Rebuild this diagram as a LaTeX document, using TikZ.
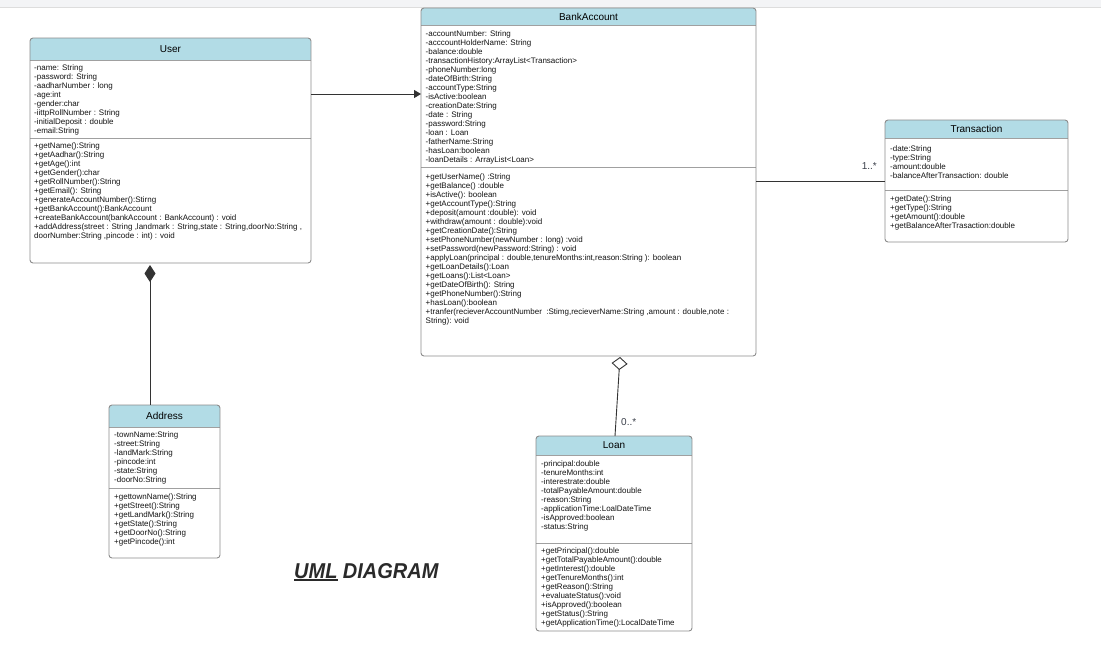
\documentclass[tikz,border=0pt]{standalone}
\usepackage{fontspec}
\setmainfont{Liberation Sans}
\newfontfamily\titlefont[FakeStretch=0.93]{Liberation Sans}
\usetikzlibrary{arrows.meta}
\definecolor{hdr}{HTML}{B2DCE6}
\definecolor{bordc}{HTML}{8C8C8C}
\definecolor{sepc}{HTML}{A0A0A0}
\definecolor{txt}{HTML}{141414}
\definecolor{linec}{HTML}{333333}
\definecolor{multc}{HTML}{3A3F4A}
\definecolor{bandc}{HTML}{F3F4F6}
\definecolor{bandl}{HTML}{DDDDDD}
\definecolor{titlec}{HTML}{2A2A2A}
\tikzset{
  boxshape/.style={anchor=north west, inner sep=0, outer sep=0, draw=none},
  boxborder/.style={draw=bordc, line width=0.9pt},
  sepline/.style={draw=sepc, line width=0.9pt},
  classtitle/.style={inner sep=0, font=\fontsize{10}{12}\selectfont, text=black},
  members/.style={anchor=north west, inner sep=0, align=left, font=\fontsize{8}{9}\selectfont, text=txt},
  conn/.style={draw=linec, line width=0.9pt},
  assoc/.style={conn, -{Triangle[length=7pt,width=8pt]}},
  mult/.style={inner sep=0, font=\fontsize{10}{12}\selectfont, text=multc},
}
% name, x, y, w, h, header bottom, separator, title
\newcommand\umlclass[8]{%
  \node[boxshape, minimum width=#4pt, minimum height=#5pt] (#1) at (#2,#3) {};
  \begin{scope}
    \clip[rounded corners=3pt] (#1.north west) rectangle (#1.south east);
    \fill[hdr] (#1.north west) rectangle (#2+#4,#6);
  \end{scope}
  \draw[sepline] (#2,#6) -- (#2+#4,#6);
  \draw[sepline] (#2,#7) -- (#2+#4,#7);
  \draw[boxborder, rounded corners=3pt] (#1.north west) rectangle (#1.south east);
  \node[classtitle] (#1-title) at ({#2+#4/2},{(#3+#6)/2}) {#8};
}
\begin{document}
\begin{tikzpicture}[x=1pt,y=-1pt]
\useasboundingbox (0,0) rectangle (1101,667);
\fill[white] (0,0) rectangle (1101,667);
\fill[bandc] (0,0) rectangle (1101,7);
\draw[bandl, line width=0.8pt] (0,7) -- (1101,7);

% ---------- User ----------
\umlclass{user}{30}{38}{281}{225}{60}{138}{User}
\node[members] (user-a) at (34,64.2) {\strut -name: String\\
-password: String\\
-aadharNumber : long\\
-age:int\\
-gender:char\\
-iittpRollNumber : String\\
-initialDeposit : double\\
-email:String};
\node[members] (user-m) at (34,142.2) {\strut +getName():String\\
+getAadhar():String\\
+getAge():int\\
+getGender():char\\
+getRollNumber():String\\
+getEmail(): String\\
+generateAccountNumber():Stirng\\
+getBankAccount():BankAccount\\
+createBankAccount(bankAccount : BankAccount) : void\\
+addAddress(street : String ,landmark : String,state : String,doorNo:String ,\\
doorNumber:String ,pincode : int) : void};

% ---------- BankAccount ----------
\umlclass{bank}{421}{8}{335}{348}{25}{167}{BankAccount}
\node[members] (bank-a) at (425.5,29.7) {\strut -accountNumber: String\\
-acccountHolderName: String\\
-balance:double\\
-transactionHistory:ArrayList<Transaction>\\
-phoneNumber:long\\
-dateOfBirth:String\\
-accountType:String\\
-isActive:boolean\\
-creationDate:String\\
-date : String\\
-password:String\\
-loan : Loan\\
-fatherName:String\\
-hasLoan:boolean\\
-loanDetails : ArrayList<Loan>};
\node[members] (bank-m) at (425.5,173.2) {\strut +getUserName() :String\\
+getBalance() :double\\
+isActive(): boolean\\
+getAccountType():String\\
+deposit(amount :double): void\\
+withdraw(amount : double):void\\
+getCreationDate():String\\
+setPhoneNumber(newNumber : long) :void\\
+setPassword(newPassword:String) : void\\
+applyLoan(principal : double,tenureMonths:int,reason:String ): boolean\\
+getLoanDetails():Loan\\
+getLoans():List<Loan>\\
+getDateOfBirth(): String\\
+getPhoneNumber():String\\
+hasLoan():boolean\\
+tranfer(recieverAccountNumber\ \ :Stimg,recieverName:String ,amount : double,note :\\
String): void};

% ---------- Transaction ----------
\umlclass{trans}{885}{120}{183}{122}{138}{190}{Transaction}
\node[members] (trans-a) at (890,144.7) {\strut -date:String\\
-type:String\\
-amount:double\\
-balanceAfterTransaction: double};
\node[members] (trans-m) at (890,194.7) {\strut +getDate():String\\
+getType():String\\
+getAmount():double\\
+getBalanceAfterTrasaction:double};

% ---------- Address ----------
\umlclass{address}{109}{405}{111}{153}{427}{488}{Address}
\node[members] (address-a) at (114,431.2) {\strut -townName:String\\
-street:String\\
-landMark:String\\
-pincode:int\\
-state:String\\
-doorNo:String};
\node[members] (address-m) at (114,492.7) {\strut +gettownName():String\\
+getStreet():String\\
+getLandMark():String\\
+getState():String\\
+getDoorNo():String\\
+getPincode():int};

% ---------- Loan ----------
\umlclass{loan}{536}{436}{156}{195}{455}{543}{Loan}
\node[members] (loan-a) at (541,459.7) {\strut -principal:double\\
-tenureMonths:int\\
-interestrate:double\\
-totalPayableAmount:double\\
-reason:String\\
-applicationTime:LoalDateTime\\
-isApproved:boolean\\
-status:String};
\node[members] (loan-m) at (541,546.7) {\strut +getPrincipal():double\\
+getTotalPayableAmount():double\\
+getInterest():double\\
+getTenureMonths():int\\
+getReason():String\\
+evaluateStatus():void\\
+isApproved():boolean\\
+getStatus():String\\
+getApplicationTime():LocalDateTime};

% ---------- Connectors ----------
\coordinate (ua) at (311,94);
\draw[assoc] (user.east |- ua) -- (bank.west |- ua);

\coordinate (bt) at (756,181);
\draw[conn] (bank.east |- bt) -- (trans.west |- bt);
\node[mult, anchor=east] (m1) at (877,166) {1..*};

\coordinate (ad) at (150,0);
\draw[conn, {Diamond[length=17pt,width=11pt]}-] ([yshift=-2pt]user.south -| ad) -- (address.north -| ad);

\coordinate (lb1) at (620,0);
\coordinate (lb2) at (615,0);
\draw[conn, {Diamond[open,length=13pt,width=16pt,fill=white]}-] ([yshift=-1pt]bank.south -| lb1) -- (loan.north -| lb2);
\node[mult, anchor=west] (m2) at (621,422) {0..*};

% ---------- Title ----------
\node[anchor=base west, inner sep=0, text=titlec, font=\titlefont\bfseries\itshape\fontsize{21.5}{21.5}\selectfont] (ttl-uml) at (294,578) {UML};
\node[anchor=base west, inner sep=0, text=titlec, font=\titlefont\bfseries\itshape\fontsize{21.5}{21.5}\selectfont] (ttl-rest) at ([xshift=5pt]ttl-uml.base east) {DIAGRAM};
\draw[titlec, line width=2pt] ([yshift=-2pt]ttl-uml.south west) -- ([yshift=-2pt]ttl-uml.south east);
\end{tikzpicture}
\end{document}
